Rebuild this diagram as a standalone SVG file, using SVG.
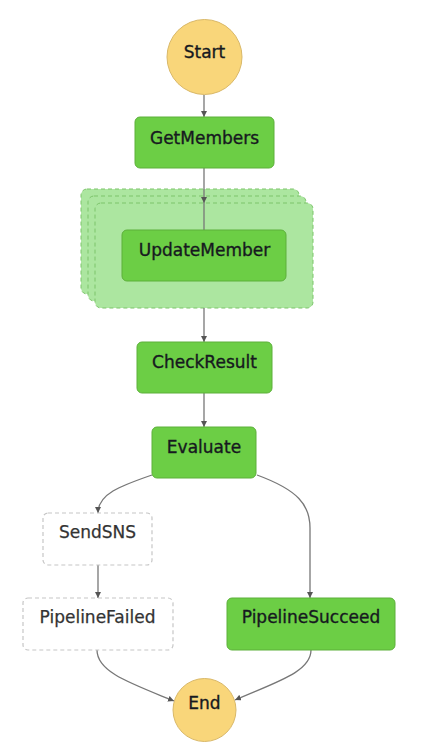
<svg xmlns="http://www.w3.org/2000/svg" width="422" height="752" viewBox="0 0 422 752">
<defs>
<marker id="arr" viewBox="0 0 10 10" refX="10" refY="5" markerWidth="6" markerHeight="6" markerUnits="userSpaceOnUse" orient="auto">
<path d="M0,0 L10,5 L0,10 z" fill="#555"/>
</marker>
</defs>
<style>
.lbl{font-family:"DejaVu Sans","Liberation Sans",sans-serif;font-size:17px;text-anchor:middle;fill:#16191f;stroke:#16191f;stroke-width:0.35}
.lbl2{font-family:"DejaVu Sans","Liberation Sans",sans-serif;font-size:17px;text-anchor:middle;fill:#333;stroke:#333;stroke-width:0.25}
.task{fill:#6cce45;stroke:#5cb03a;stroke-width:1}
.circ{fill:#f9d67a;stroke:#d9b868;stroke-width:1}
.frame{fill:#ace6a0;stroke:#7cc46b;stroke-width:1;stroke-dasharray:4 3}
.ghost{fill:#fff;stroke:#c6c6c6;stroke-width:1.2;stroke-dasharray:4 3}
.edge{fill:none;stroke:#777;stroke-width:1.3;marker-end:url(#arr)}
.edge0{fill:none;stroke:#777;stroke-width:1.3}
</style>
<rect width="422" height="752" fill="#fff"/>
<g id="map">
<rect class="frame" x="81" y="189" width="218" height="105" rx="6"/>
<rect class="frame" x="88" y="196" width="218" height="105" rx="6"/>
<rect class="frame" x="95" y="203" width="218" height="105" rx="6"/>
</g>
<g id="connectors">
<path class="edge" d="M204,95 L204,117"/>
<path class="edge" d="M204,168 L204,203"/>
<path class="edge0" d="M204,203 L204,230"/>
<path class="edge" d="M204,308 L204,342"/>
<path class="edge" d="M204,393 L204,427"/>
<path class="edge" d="M152,475 C120,486 98,494 98,513"/>
<path class="edge" d="M98,565 L98,598"/>
<path class="edge" d="M257,475 C298,490 310,505 310,528 L310,598"/>
<path class="edge" d="M97,650 C97,672 130,683 174,701"/>
<path class="edge" d="M311,650 C311,672 276,682 235,700"/>
</g>
<g id="Start">
<circle class="circ" cx="204.5" cy="57" r="37.5"/>
<text class="lbl" x="204.5" y="58">Start</text>
</g>
<g id="GetMembers">
<rect class="task" x="135" y="117" width="139" height="51" rx="5"/>
<text class="lbl" x="204.5" y="143.5">GetMembers</text>
</g>
<g id="UpdateMember">
<rect class="task" x="122" y="230" width="164" height="51" rx="5"/>
<text class="lbl" x="204.5" y="256">UpdateMember</text>
</g>
<g id="CheckResult">
<rect class="task" x="137" y="342" width="135" height="51" rx="5"/>
<text class="lbl" x="204.5" y="367.5">CheckResult</text>
</g>
<g id="Evaluate">
<rect class="task" x="152" y="427" width="104" height="51" rx="5"/>
<text class="lbl" x="204" y="452.5">Evaluate</text>
</g>
<g id="SendSNS">
<rect class="ghost" x="43" y="513" width="109" height="52" rx="5"/>
<text class="lbl2" x="97.5" y="537.5">SendSNS</text>
</g>
<g id="PipelineFailed">
<rect class="ghost" x="23" y="598" width="150" height="52" rx="5"/>
<text class="lbl2" x="97.5" y="623">PipelineFailed</text>
</g>
<g id="PipelineSucceed">
<rect class="task" x="227" y="598" width="168" height="52" rx="5"/>
<text class="lbl" x="311" y="623">PipelineSucceed</text>
</g>
<g id="End">
<circle class="circ" cx="204.5" cy="710" r="31.5"/>
<text class="lbl" x="204.5" y="709">End</text>
</g>
</svg>
